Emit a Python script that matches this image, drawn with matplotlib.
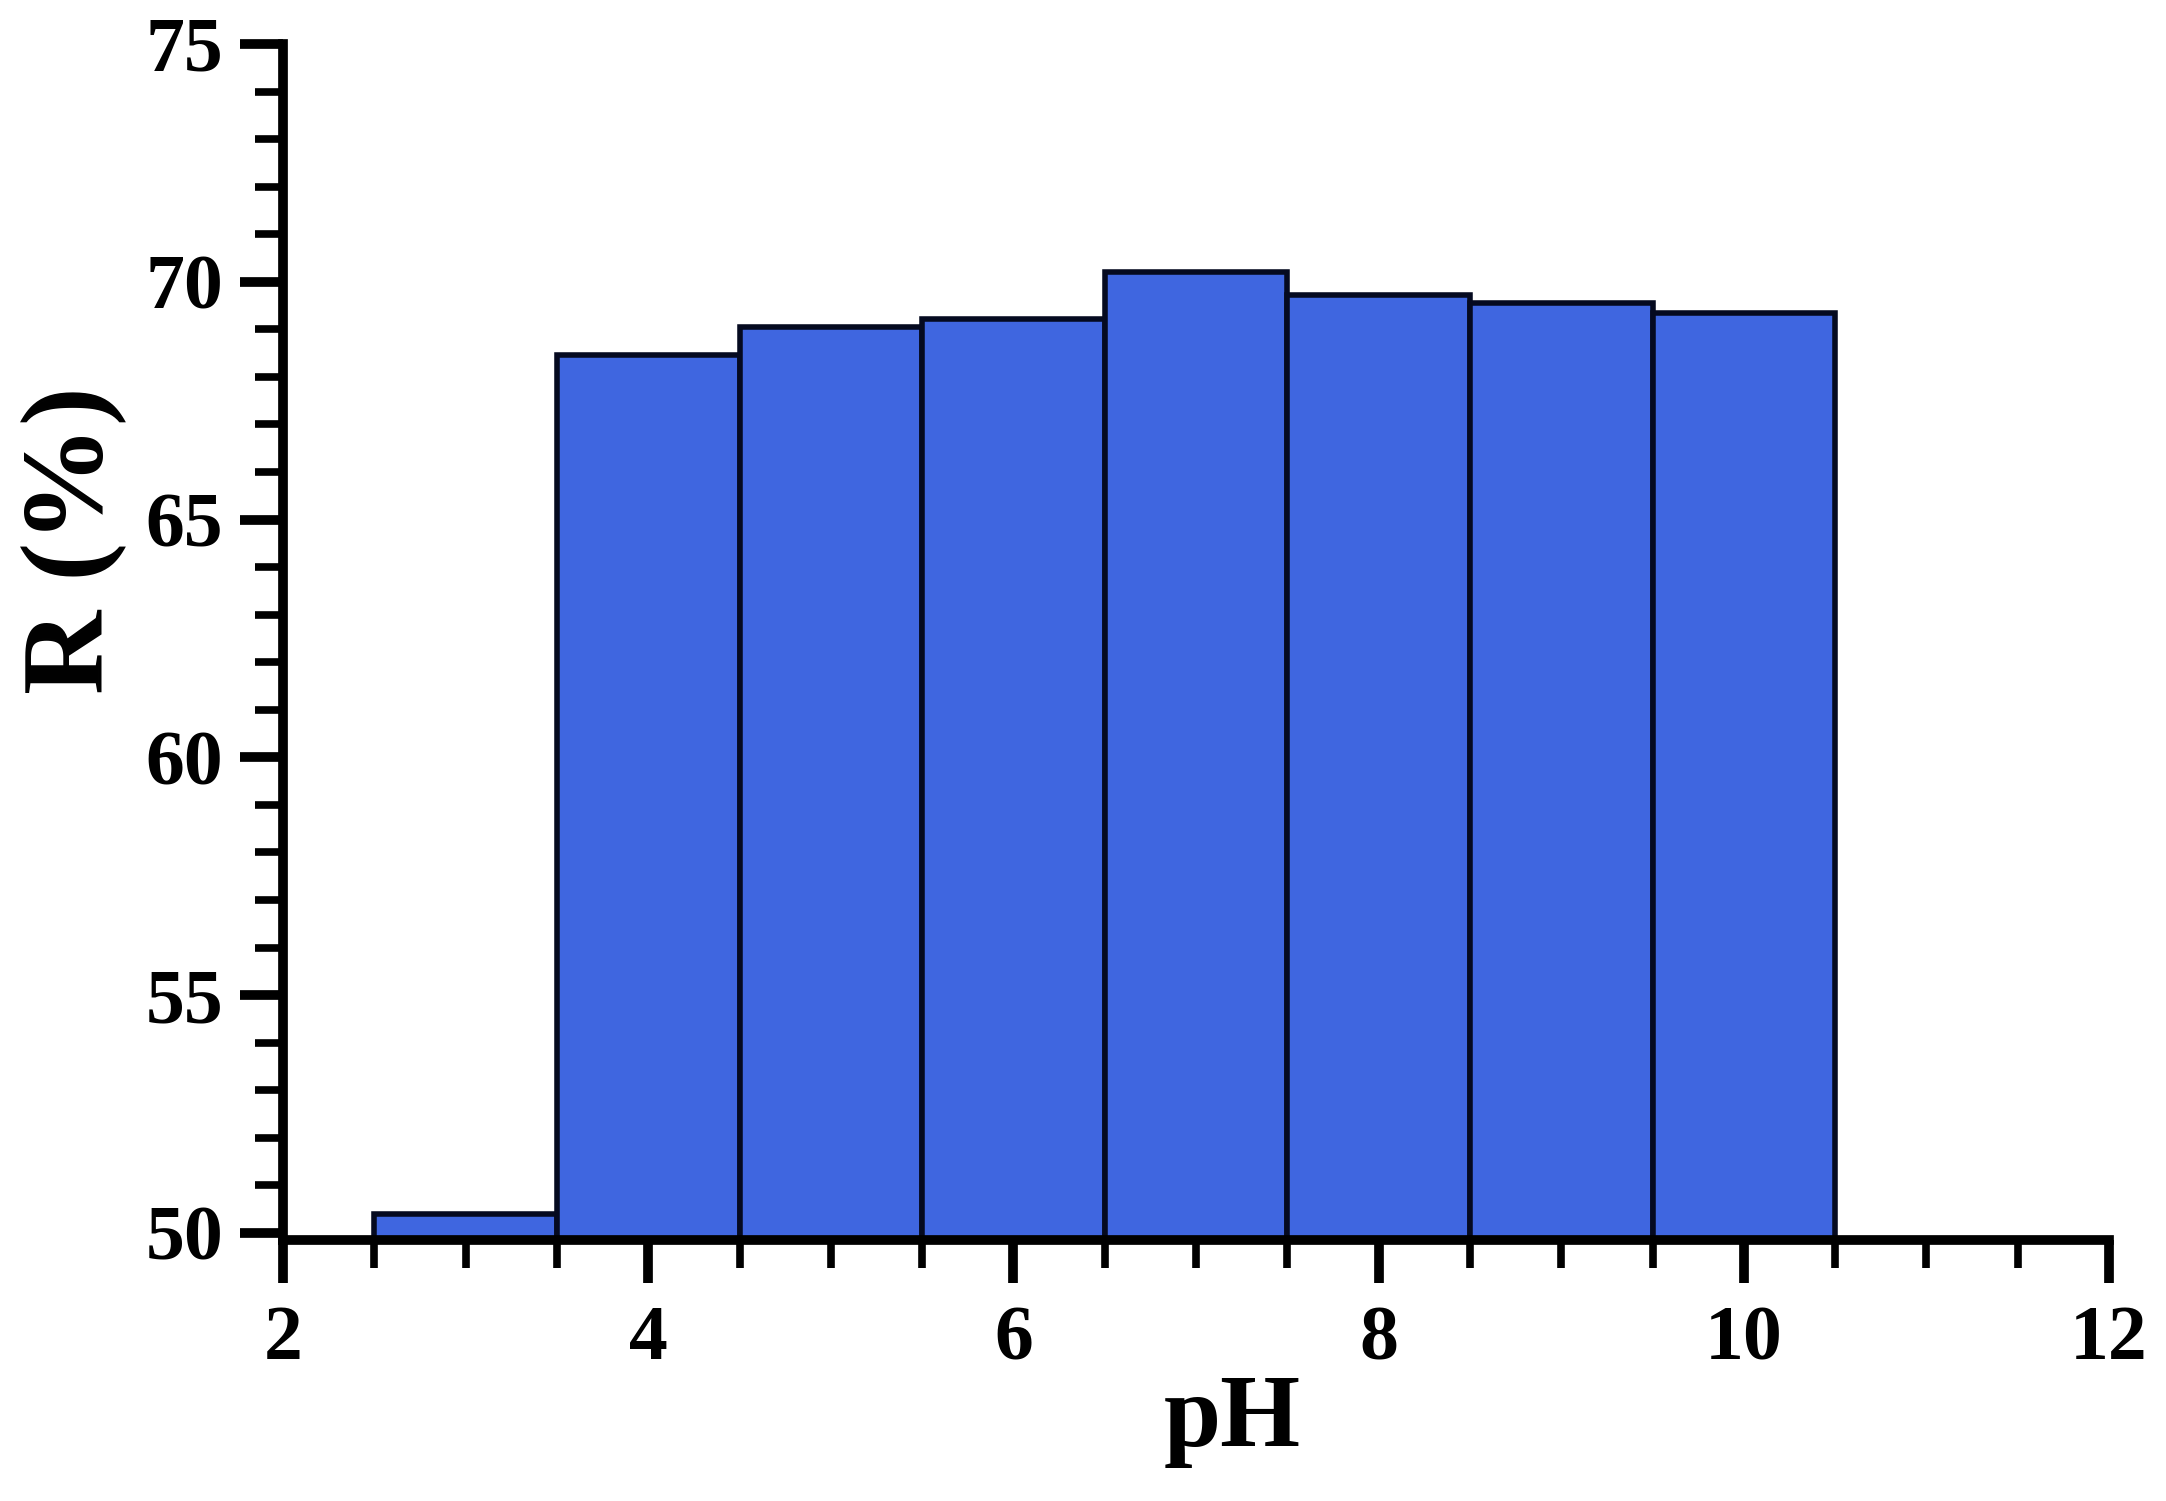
import numpy as np
import matplotlib
matplotlib.use('Agg')
import matplotlib.pyplot as plt
from matplotlib.ticker import MultipleLocator

# Data
PH = [3, 4, 5, 6, 7, 8, 9, 10]
R_PERCENT = [50.4, 68.45, 69.05, 69.22, 70.2, 69.72, 69.55, 69.35]

BAR_COLOR = '#3F66E0'

plt.rcParams['font.family'] = ['Liberation Serif', 'DejaVu Serif']
plt.rcParams['font.weight'] = 'bold'

fig = plt.figure(figsize=(21.66, 15.01), dpi=100)
ax = fig.add_axes([0.1307, 0.1739, 0.843, 0.7968])

ax.bar(PH, [v - 49.85 for v in R_PERCENT], bottom=49.85, width=1.0,
       color=BAR_COLOR, edgecolor='#050a20', linewidth=4, zorder=2)

ax.set_xlim(2, 12)
ax.set_ylim(49.85, 75)

ax.xaxis.set_major_locator(MultipleLocator(2))
ax.xaxis.set_minor_locator(MultipleLocator(0.5))
ax.yaxis.set_major_locator(MultipleLocator(5))
ax.yaxis.set_minor_locator(MultipleLocator(1))

for s in ['top', 'right']:
    ax.spines[s].set_visible(False)
for s in ['left', 'bottom']:
    ax.spines[s].set_linewidth(7)
    ax.spines[s].set_zorder(3)

ax.tick_params(which='major', direction='out', length=31, width=7,
               labelsize=56, pad=12)
ax.tick_params(which='minor', direction='out', length=20, width=5.5)
ax.tick_params(axis='x', which='major', pad=16)

for lbl in ax.get_xticklabels() + ax.get_yticklabels():
    lbl.set_fontweight('bold')

ax.set_xlabel('pH', fontsize=74, fontweight='bold')
ax.set_ylabel('R (%)', fontsize=84, fontweight='bold')
ax.xaxis.set_label_coords(0.52, -0.112)
ax.yaxis.set_label_coords(-0.086, 0.585)

fig.savefig('out.png', dpi=100)
